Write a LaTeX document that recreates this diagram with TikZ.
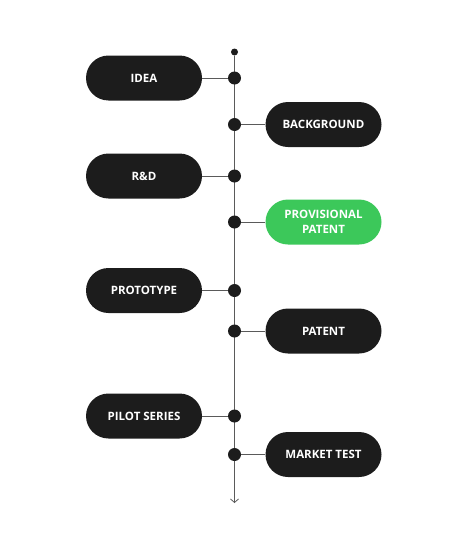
\documentclass[tikz,border=0pt]{standalone}
\usepackage{fontspec}
\setmainfont{Open Sans}
\usetikzlibrary{arrows.meta}
\definecolor{pillblack}{HTML}{1C1C1C}
\definecolor{pillgreen}{HTML}{3CC85A}
\definecolor{linegray}{HTML}{5A5A5A}
\tikzset{
  pill/.style={draw=none, fill=pillblack, text=white, rounded corners=22.5pt,
    minimum width=116pt, minimum height=45pt, inner sep=0pt, align=center,
    font=\bfseries\fontsize{11.5}{14.5}\selectfont},
  greenpill/.style={pill, fill=pillgreen},
  bigdot/.style={circle, fill=pillblack, minimum size=13pt, inner sep=0pt},
  smalldot/.style={circle, fill=pillblack, minimum size=7pt, inner sep=0pt},
  link/.style={draw=linegray, line width=0.8pt},
}
\begin{document}
\begin{tikzpicture}[x=1pt,y=-1pt]
\useasboundingbox (0,0) rectangle (455,549);
\node[smalldot] (top) at (234.5,52) {};
\coordinate (end) at (234.5,503);
\draw[link, -{Straight Barb[length=3.5pt,width=8pt]}] (top) -- (end);

\node[pill] (idea) at (144,78) {IDEA};
\node[pill] (bg) at (323.5,124.5) {BACKGROUND};
\node[pill] (rd) at (144,176) {R\&D};
\node[greenpill] (prov) at (323.5,222) {PROVISIONAL\\PATENT};
\node[pill] (proto) at (144,290.5) {PROTOTYPE};
\node[pill] (pat) at (323.5,331) {PATENT};
\node[pill] (pilot) at (144,416) {PILOT SERIES};
\node[pill] (mkt) at (323.5,454.5) {MARKET TEST};

\node[bigdot] (d1) at (234.5,78) {};
\node[bigdot] (d2) at (234.5,124.5) {};
\node[bigdot] (d3) at (234.5,176) {};
\node[bigdot] (d4) at (234.5,222) {};
\node[bigdot] (d5) at (234.5,290.5) {};
\node[bigdot] (d6) at (234.5,331) {};
\node[bigdot] (d7) at (234.5,416) {};
\node[bigdot] (d8) at (234.5,454.5) {};

\draw[link] (idea.east) -- (d1);
\draw[link] (bg.west) -- (d2);
\draw[link] (rd.east) -- (d3);
\draw[link] (prov.west) -- (d4);
\draw[link] (proto.east) -- (d5);
\draw[link] (pat.west) -- (d6);
\draw[link] (pilot.east) -- (d7);
\draw[link] (mkt.west) -- (d8);
\end{tikzpicture}
\end{document}
